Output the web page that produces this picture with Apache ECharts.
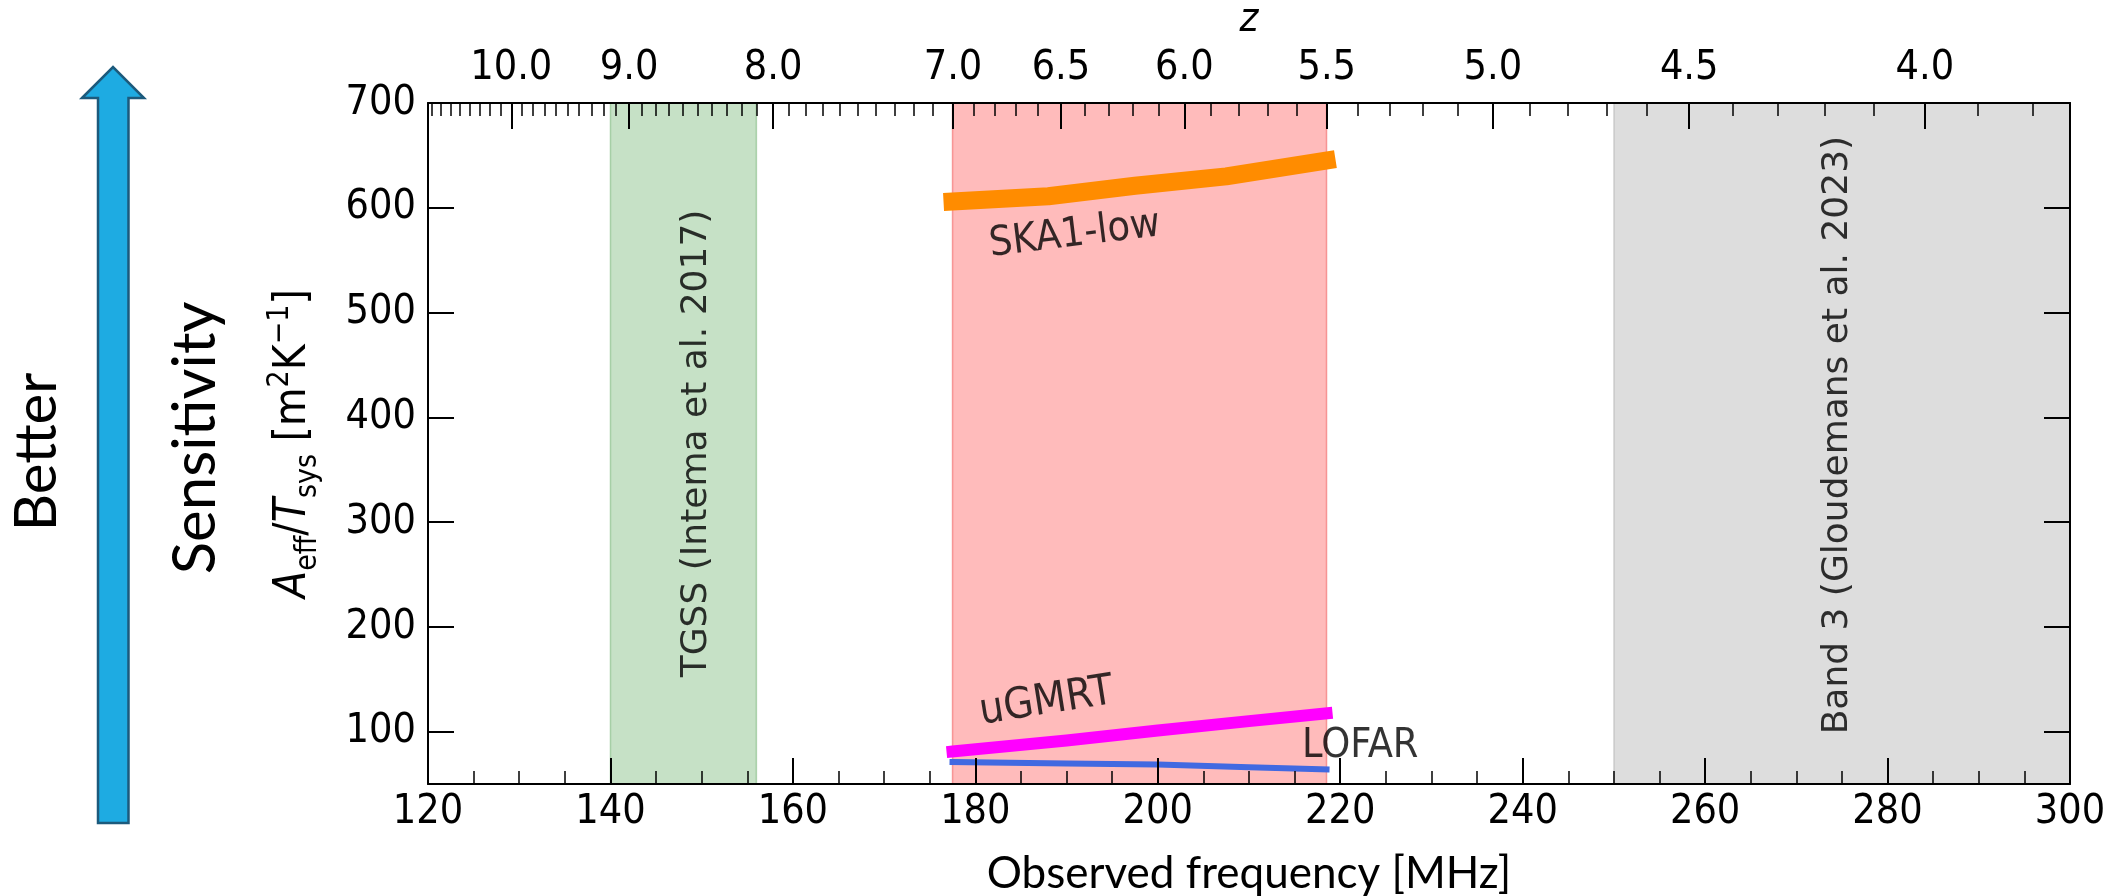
<!DOCTYPE html>
<html>
<head>
<meta charset="utf-8">
<script src="https://cdn.jsdelivr.net/npm/echarts@6/dist/echarts.min.js"></script>
<style>
html,body{margin:0;padding:0;background:#fff;}
#chart{width:2115px;height:896px;}
</style>
</head>
<body>
<div id="chart"></div>
<script>
// ---------------- data ----------------
const zMajor = [10.0, 9.0, 8.0, 7.0, 6.5, 6.0, 5.5, 5.0, 4.5, 4.0];
const yTicks = [100, 200, 300, 400, 500, 600, 700];

const skaFreq = [177.5, 188, 197.5, 207.5, 218.5];
const skaVal  = [606, 611, 621, 630, 645];
const ugmrtFreq = [177.5, 190, 200, 210, 218.5];
const ugmrtVal  = [81, 91.5, 101, 110, 117.5];
const lofarFreq = [177.5, 190, 200, 210, 218.5];
const lofarVal  = [71, 69.5, 68.5, 66, 64];

const bandNames = ['TGSS', 'EoR window', 'Band 3'];
const bandStart = [140, 177.5, 250];
const bandEnd   = [156, 218.5, 300];

const annText = ['SKA1-low', 'uGMRT', 'LOFAR', 'TGSS (Intema et al. 2017)', 'Band 3 (Gloudemans et al. 2023)'];
const annX    = [190.9, 187.8, 222.2, 149.4, 274.5];
const annY    = [574, 128, 86, 375, 383];
const annRot  = [7, 9, 0, 90, 90];

// ---------------- styling ----------------
const F21 = 1420.40575;
const TICKFONT = '"DejaVu Sans Condensed", "DejaVu Sans", sans-serif';
const bandFill = ['rgba(60,150,60,0.29)', 'rgba(255,60,60,0.35)', 'rgba(150,150,150,0.32)'];
const bandEdge = ['rgba(60,150,60,0.35)', 'rgba(240,90,90,0.55)', 'rgba(150,150,150,0.35)'];
const annSize = [41, 43, 41, 36, 36];
const annFamily = [TICKFONT, TICKFONT, TICKFONT, '"DejaVu Sans", sans-serif', '"DejaVu Sans", sans-serif'];

const zMajorFreq = zMajor.map(z => F21 / (1 + z));
const zMinorFreq = [];
for (let k = 38; k <= 108; k++) {
  const f = F21 / (1 + k / 10);
  if (f >= 120 && f <= 300) zMinorFreq.push(f);
}

const pairs = (xs, ys) => xs.map((x, i) => [x, ys[i]]);

const chart = echarts.init(document.getElementById('chart'), null, {renderer: 'canvas'});

const axisLineStyle = {color: '#000', width: 2};

const option = {
  animation: false,
  backgroundColor: '#fff',
  grid: {left: 428, right: 45, top: 103, bottom: 112, containLabel: false, outerBoundsMode: 'none'},
  xAxis: [
    {
      type: 'value', position: 'bottom', min: 120, max: 300, interval: 20, z: 10,
      axisLine: {show: true, onZero: false, lineStyle: axisLineStyle},
      axisTick: {show: true, inside: true, length: 26, lineStyle: {color: '#000', width: 2}},
      minorTick: {show: true, splitNumber: 4, length: 13, lineStyle: {color: '#000', width: 1.5}},
      axisLabel: {color: '#000', fontSize: 41, fontFamily: TICKFONT, margin: 8},
      splitLine: {show: false}, minorSplitLine: {show: false},
      name: 'Observed frequency [MHz]', nameLocation: 'middle', nameGap: 68,
      nameTextStyle: {fontFamily: 'Lato', fontSize: 44, color: '#000'}
    },
    {
      type: 'value', position: 'top', min: 120, max: 300, z: 10,
      axisLine: {show: true, onZero: false, lineStyle: axisLineStyle},
      axisTick: {show: true, inside: true, length: 26, customValues: zMajorFreq, lineStyle: {color: '#000', width: 2}},
      axisLabel: {show: true, customValues: zMajorFreq, color: '#000', fontSize: 41, fontFamily: TICKFONT, margin: 14,
        formatter: v => (F21 / v - 1).toFixed(1)},
      splitLine: {show: false},
      name: 'z', nameLocation: 'middle', nameGap: 62,
      nameTextStyle: {fontFamily: TICKFONT, fontStyle: 'italic', fontSize: 40, color: '#000'}
    },
    {
      type: 'value', position: 'top', min: 120, max: 300, z: 10,
      axisLine: {show: false, onZero: false},
      axisTick: {show: true, inside: true, length: 13, customValues: zMinorFreq, lineStyle: {color: '#000', width: 1.5}},
      axisLabel: {show: false},
      splitLine: {show: false}
    }
  ],
  yAxis: [
    {
      type: 'value', position: 'left', min: 50, max: 700, z: 10,
      axisLine: {show: true, onZero: false, lineStyle: axisLineStyle},
      axisTick: {show: true, inside: true, length: 26, customValues: yTicks, lineStyle: {color: '#000', width: 2}},
      axisLabel: {show: true, customValues: yTicks, color: '#000', fontSize: 41, fontFamily: TICKFONT, margin: 12},
      splitLine: {show: false},
      name: '{it|A}{sub|eff}{n|/}{it|T}{sub|sys}{n| [m}{sup|2}{n|K}{sup|−1}{n|]}',
      nameLocation: 'middle', nameRotate: 90, nameGap: 105,
      nameTextStyle: {
        color: '#000', fontFamily: TICKFONT, fontSize: 44,
        rich: {
          it: {fontFamily: TICKFONT, fontStyle: 'italic', fontSize: 44, lineHeight: 58, color: '#000'},
          n: {fontFamily: TICKFONT, fontSize: 44, lineHeight: 58, color: '#000'},
          sub: {fontFamily: TICKFONT, fontSize: 30, lineHeight: 22, verticalAlign: 'bottom', color: '#000'},
          sup: {fontFamily: TICKFONT, fontSize: 30, lineHeight: 22, verticalAlign: 'top', color: '#000'}
        }
      }
    },
    {
      type: 'value', position: 'right', min: 50, max: 700, z: 10,
      axisLine: {show: true, onZero: false, lineStyle: axisLineStyle},
      axisTick: {show: true, inside: true, length: 26, customValues: yTicks, lineStyle: {color: '#000', width: 2}},
      axisLabel: {show: false},
      splitLine: {show: false}
    }
  ],
  series: [
    {
      name: 'bands', type: 'line', data: [], silent: true, xAxisIndex: 0, yAxisIndex: 0, z: 1,
      markArea: {
        silent: true,
        data: bandNames.map((n, i) => [
          {name: n, xAxis: bandStart[i], itemStyle: {color: bandFill[i], borderColor: bandEdge[i], borderWidth: 1.5}},
          {xAxis: bandEnd[i]}
        ]),
        label: {show: false}
      }
    },
    {
      name: 'SKA1-low', type: 'line', data: pairs(skaFreq, skaVal), symbol: 'none', z: 3,
      lineStyle: {color: '#FF8C00', width: 18, cap: 'square', join: 'round'}
    },
    {
      name: 'uGMRT', type: 'line', data: pairs(ugmrtFreq, ugmrtVal), symbol: 'none', z: 4,
      lineStyle: {color: '#FF00FF', width: 12, cap: 'square', join: 'round'}
    },
    {
      name: 'LOFAR', type: 'line', data: pairs(lofarFreq, lofarVal), symbol: 'none', z: 5,
      lineStyle: {color: '#4169E1', width: 6, cap: 'square', join: 'round'}
    },
    {
      name: 'annotations', type: 'scatter', symbolSize: 0, z: 6, silent: true,
      data: annText.map((t, i) => ({
        value: [annX[i], annY[i]],
        label: {
          show: true, position: 'inside', formatter: t, rotate: annRot[i],
          color: '#000', fontSize: annSize[i], fontFamily: annFamily[i]
        }
      }))
    }
  ],
  graphic: [
    {
      type: 'polygon', z: 10,
      shape: {points: [[82, 98], [113, 67], [144, 98], [128.5, 98], [128.5, 823], [98, 823], [98, 98]]},
      style: {fill: '#1EABE2', stroke: '#1C5A7C', lineWidth: 2.5}
    },
    {
      type: 'text', x: 37, y: 452, rotation: Math.PI / 2, z: 10,
      style: {text: 'Better', fontSize: 58, fontFamily: 'Lato', fill: '#000', textAlign: 'center', textVerticalAlign: 'middle', align: 'center', verticalAlign: 'middle'}
    },
    {
      type: 'text', x: 196, y: 438, rotation: Math.PI / 2, z: 10,
      style: {text: 'Sensitivity', fontSize: 60, fontFamily: 'Lato', fill: '#000', textAlign: 'center', textVerticalAlign: 'middle', align: 'center', verticalAlign: 'middle'}
    }
  ]
};

chart.setOption(option);
</script>
</body>
</html>
